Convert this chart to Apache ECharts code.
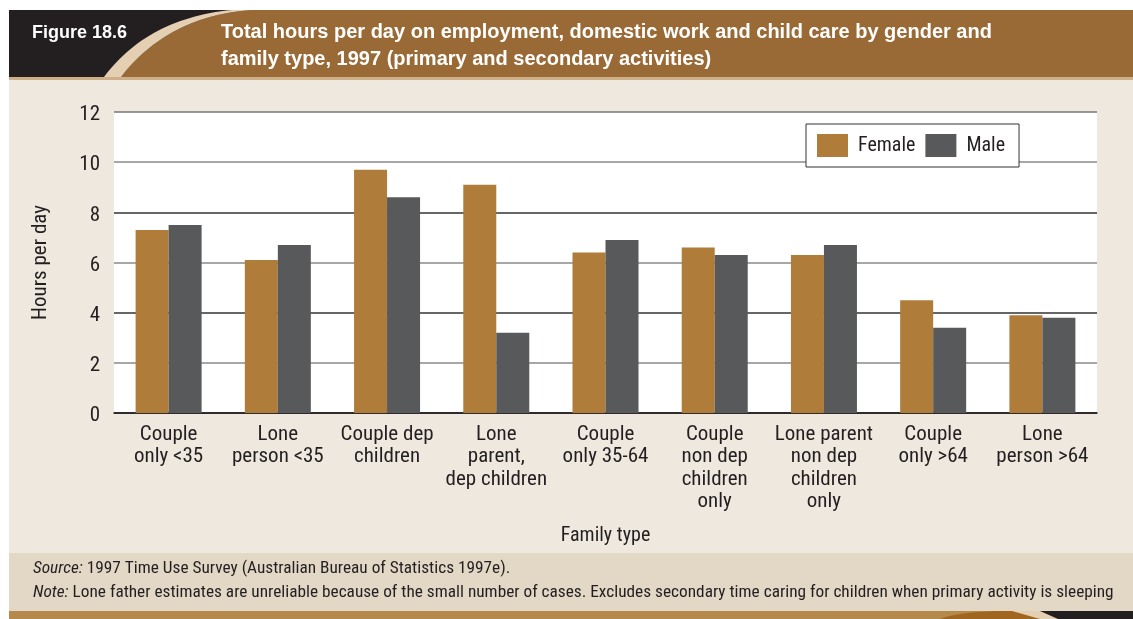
<!DOCTYPE html>
<html><head><meta charset="utf-8">
<script src="https://cdn.jsdelivr.net/npm/echarts@6/dist/echarts.min.js"></script>
<style>html,body{margin:0;padding:0;background:#fff}#c{width:1133px;height:619px}</style>
</head><body><div id="c"></div>
<script>
const categories = ['Couple\nonly <35','Lone\nperson <35','Couple dep\nchildren','Lone\nparent,\ndep children','Couple\nonly 35-64','Couple\nnon dep\nchildren\nonly','Lone parent\nnon dep\nchildren\nonly','Couple\nonly >64','Lone\nperson >64'];
const female = [7.3, 6.1, 9.7, 9.1, 6.4, 6.6, 6.3, 4.5, 3.9];
const male = [7.5, 6.7, 8.6, 3.2, 6.9, 6.3, 6.7, 3.4, 3.8];
const yTicks = {min: 0, max: 12, interval: 2};

const FONT = "'Roboto Condensed', 'Liberation Sans', sans-serif";
const WIDE = "'Liberation Sans', Arial, sans-serif";
const TXT = '#231F20';

function quad(p0, p1, p2, n) {
  const pts = [];
  for (let i = 0; i <= n; i++) {
    const t = i / n, u = 1 - t;
    pts.push([u*u*p0[0] + 2*u*t*p1[0] + t*t*p2[0], u*u*p0[1] + 2*u*t*p1[1] + t*t*p2[1]]);
  }
  return pts;
}
const outerCurve = quad([104,77],[148,18],[232,10],30);
const innerCurve = quad([121,77],[168,16],[252,10],30);
const creamPoly = outerCurve.concat(innerCurve.slice().reverse());
const brownPoly = innerCurve.concat([[1133,10],[1133,77]]);

const chart = echarts.init(document.getElementById('c'));
chart.setOption({
  animation: false,
  color: ['#B07C3A', '#58595B'],
  graphic: [
    {type:'rect', z:-10, shape:{x:9,y:10,width:1124,height:609}, style:{fill:'#EFE8DF'}},
    {type:'rect', z:-9, shape:{x:9,y:10,width:1124,height:68}, style:{fill:'#231F20'}},
    {type:'polygon', z:-8, shape:{points: brownPoly}, style:{fill:'#9A6A36'}},
    {type:'polygon', z:-8, shape:{points: creamPoly}, style:{fill:'#E4CFB2'}},
    {type:'rect', z:-8, shape:{x:9,y:77,width:1124,height:3}, style:{fill:'#CDAF88'}},
    {type:'rect', z:-8, shape:{x:9,y:553,width:1124,height:58}, style:{fill:'#E3D7C6'}},
    {type:'rect', z:-8, shape:{x:9,y:611,width:1124,height:8}, style:{fill:'#B5884C'}},
    {type:'polygon', z:-7, shape:{points: quad([940,619],[960,611],[1010,611],10).concat([[1040,611],[1040,619]])}, style:{fill:'#A0661F'}},
    {type:'polygon', z:-7, shape:{points: [[1012,611],[1133,611],[1133,619],[1040,619]]}, style:{fill:'#E4CFB2'}},
    {type:'polygon', z:-7, shape:{points: [[1040,611],[1133,611],[1133,619],[1058,619]]}, style:{fill:'#231F20'}},
    {type:'text', z:5, left:32, top:24, style:{text:'Figure 18.6', fill:'#fff', font:"bold 18px " + WIDE}},
    {type:'text', z:5, left:221, top:19, style:{text:'Total hours per day on employment, domestic work and child care by gender and\nfamily type, 1997 (primary and secondary activities)', fill:'#fff', font:"bold 20px " + WIDE, lineHeight:27}},
    {type:'text', z:5, left:33, top:557, style:{
      text:'{i|Source:} 1997 Time Use Survey (Australian Bureau of Statistics 1997e).\n{i|Note:} Lone father estimates are unreliable because of the small number of cases. Excludes secondary time caring for children when primary activity is sleeping',
      fill:TXT, font:"17.3px " + FONT, lineHeight:24,
      rich:{i:{fontStyle:'italic', fontFamily:FONT, fontSize:17.3, fill:TXT}}
    }}
  ],
  legend: {
    left: 806, top: 124,
    orient: 'horizontal',
    backgroundColor: '#fff',
    borderColor: '#333', borderWidth: 1, borderRadius: 0,
    padding: [10, 14, 10, 11],
    itemWidth: 31, itemHeight: 23, itemGap: 10,
    icon: 'rect',
    textStyle: {fontFamily: FONT, fontSize: 20, color: TXT, padding:[4,0,0,5]},
    data: ['Female', 'Male']
  },
  grid: {left: 114, top: 112, right: 36, bottom: 206, show: true, backgroundColor: '#fff', borderWidth: 0},
  xAxis: {
    type: 'category',
    data: categories,
    name: 'Family type',
    nameLocation: 'middle',
    nameGap: 113,
    nameTextStyle: {fontFamily: FONT, fontSize: 20, color: TXT},
    axisLine: {lineStyle: {color: '#231F20', width: 1.5}},
    axisTick: {inside: true, length: 7, lineStyle: {color: '#231F20'}},
    axisLabel: {fontFamily: FONT, fontSize: 21, color: TXT, lineHeight: 22.5, margin: 10, interval: 0}
  },
  yAxis: {
    type: 'value',
    min: yTicks.min, max: yTicks.max, interval: yTicks.interval,
    name: 'Hours per day',
    nameLocation: 'middle',
    nameGap: 63,
    nameTextStyle: {fontFamily: FONT, fontSize: 21, color: TXT},
    axisLine: {show: false},
    axisTick: {show: false},
    axisLabel: {
      margin: 14,
      formatter: '{v|{value}}',
      rich: {v: {fontFamily: FONT, fontSize: 21, color: TXT, padding: [6, 0, 0, 0]}}
    },
    splitLine: {lineStyle: {color: ['#231F20','#8a8a8a','#333','#8a8a8a','#333','#8a8a8a','#777'], width: 1.5}}
  },
  series: [
    {name: 'Female', type: 'bar', data: female, barWidth: 33, barGap: '0%', z: 3},
    {name: 'Male', type: 'bar', data: male, barWidth: 33, barGap: '0%', z: 3}
  ]
});
</script></body></html>
